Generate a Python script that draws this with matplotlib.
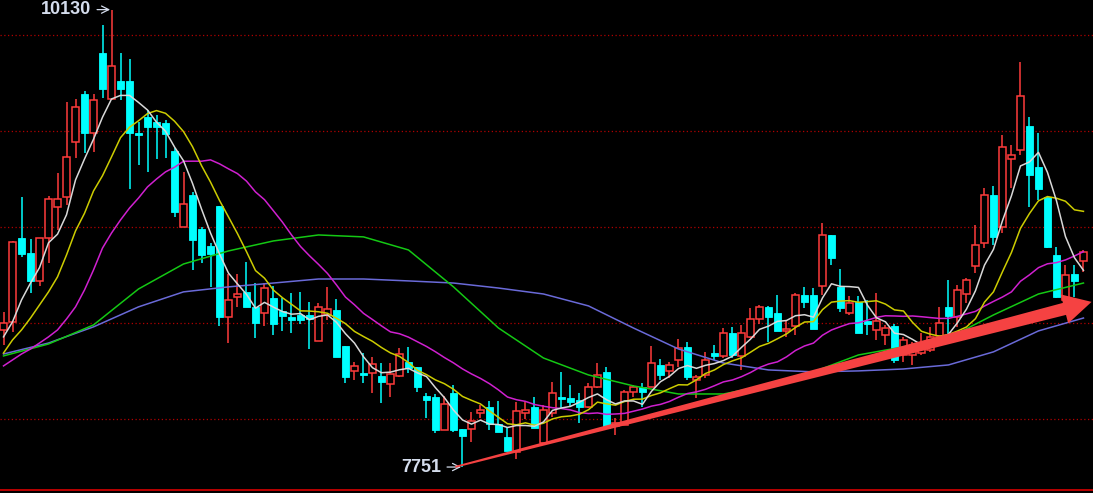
import numpy as np
import pandas as pd
import matplotlib
matplotlib.use('Agg')
import matplotlib.pyplot as plt
from matplotlib.patches import Rectangle, Polygon
from matplotlib.transforms import IdentityTransform

# daily OHLC
opens = [8464, 8506, 8942, 8864, 8719, 8942, 9104, 9156, 9442, 9691,
         9488, 9904, 9665, 9759, 9759, 9488, 9572, 9546, 9540, 9395,
         9000, 9166, 8989, 8901, 9109, 8532, 8636, 8662, 8584, 8552,
         8630, 8563, 8532, 8542, 8542, 8407, 8542, 8568, 8381, 8251,
         8240, 8240, 8225, 8183, 8225, 8298, 8272, 8121, 8116, 7944,
         8136, 7949, 7949, 8032, 8064, 7975, 7908, 7830, 8032, 8064,
         7876, 8032, 8116, 8110, 8100, 8064, 8168, 8246, 7965, 7970,
         8142, 8168, 8168, 8282, 8251, 8308, 8376, 8204, 8230, 8344,
         8329, 8448, 8329, 8428, 8521, 8584, 8552, 8459, 8485, 8646,
         8646, 8693, 8958, 8688, 8552, 8610, 8511, 8464, 8438, 8485,
         8334, 8334, 8344, 8360, 8433, 8584, 8532, 8651, 8797, 8916,
         9166, 9000, 9353, 9400, 9525, 9312, 9156, 8854, 8620, 8755,
         8823]
closes = [8500, 8922, 8859, 8719, 8942, 9145, 9145, 9364, 9624, 9488,
          9660, 9717, 9837, 9717, 9488, 9478, 9520, 9520, 9483, 9078,
          9119, 8932, 8854, 8859, 8532, 8620, 8651, 8584, 8500, 8682,
          8495, 8537, 8516, 8516, 8521, 8584, 8573, 8324, 8220, 8277,
          8230, 8287, 8194, 8235, 8339, 8266, 8168, 8100, 7944, 8079,
          7944, 7913, 7991, 8048, 7975, 7934, 7835, 8043, 8048, 7954,
          8048, 8136, 8105, 8090, 8064, 8168, 8230, 7954, 7980, 8142,
          8168, 8142, 8292, 8230, 8282, 8370, 8220, 8220, 8308, 8329,
          8448, 8334, 8448, 8521, 8584, 8532, 8459, 8469, 8646, 8610,
          8469, 8958, 8838, 8578, 8604, 8448, 8495, 8511, 8474, 8308,
          8412, 8370, 8370, 8428, 8500, 8537, 8672, 8724, 8906, 9166,
          8948, 9416, 9374, 9681, 9270, 9197, 8896, 8636, 8750, 8719,
          8870]
highs = [8558, 8927, 9156, 8937, 8942, 9161, 9280, 9650, 9665, 9707,
         9691, 10050, 10130, 9904, 9873, 9546, 9608, 9582, 9556, 9410,
         9286, 9182, 9000, 8916, 9109, 8755, 8755, 8818, 8708, 8708,
         8693, 8630, 8656, 8662, 8610, 8604, 8688, 8625, 8381, 8298,
         8344, 8324, 8292, 8292, 8370, 8376, 8272, 8136, 8131, 8121,
         8178, 7949, 8038, 8074, 8095, 8095, 7960, 8090, 8090, 8116,
         8074, 8194, 8246, 8178, 8136, 8188, 8292, 8272, 8006, 8152,
         8178, 8188, 8381, 8313, 8298, 8417, 8402, 8230, 8350, 8386,
         8474, 8480, 8490, 8578, 8594, 8589, 8646, 8516, 8656, 8688,
         8682, 9020, 8958, 8781, 8641, 8641, 8620, 8656, 8490, 8495,
         8428, 8402, 8448, 8480, 8584, 8724, 8698, 8734, 9010, 9202,
         9213, 9478, 9426, 9858, 9572, 9488, 9156, 8896, 8802, 8802,
         8880]
lows = [8386, 8454, 8844, 8656, 8693, 8812, 8984, 9114, 9358, 9384,
        9390, 9670, 9660, 9660, 9197, 9322, 9286, 9353, 9358, 9052,
        9000, 8776, 8812, 8688, 8485, 8396, 8584, 8584, 8422, 8485,
        8438, 8459, 8448, 8495, 8365, 8407, 8516, 8324, 8188, 8204,
        8188, 8136, 8084, 8116, 8220, 8240, 8142, 8006, 7928, 7944,
        7934, 7751, 7882, 8006, 7944, 7934, 7835, 7793, 8001, 7954,
        7876, 8012, 8058, 8064, 7980, 8058, 8162, 7954, 7918, 7970,
        8116, 8064, 8168, 8204, 8214, 8272, 8204, 8110, 8214, 8308,
        8318, 8318, 8256, 8422, 8495, 8402, 8459, 8428, 8438, 8578,
        8469, 8646, 8802, 8558, 8542, 8448, 8438, 8412, 8386, 8292,
        8298, 8282, 8334, 8350, 8433, 8438, 8480, 8604, 8760, 8890,
        8906, 8968, 9202, 9374, 9104, 9140, 8890, 8630, 8604, 8636,
        8766]

# moving-average values before a full window is available
ma5_head = [8428, 8506, 8620, 8708]
ma10_head = [8344, 8412, 8464, 8526, 8594, 8662, 8740, 8854, 8979]
ma20_head = [8277, 8308, 8339, 8365, 8396, 8428, 8464, 8521, 8584, 8672,
             8776, 8890, 8968, 9036, 9098, 9150, 9208, 9249, 9286]

# slow averages, read every 5th bar
slow_idx = [0, 5, 10, 15, 20, 25, 30, 35, 40, 45, 50, 55, 60,
            65, 70, 75, 80, 85, 90, 95, 100, 105, 110, 115, 120]
ma_green = [8329, 8391, 8490, 8677, 8807, 8875, 8927, 8958, 8948, 8880,
            8688, 8474, 8318, 8230, 8173, 8131, 8131, 8178, 8246, 8334,
            8376, 8422, 8542, 8651, 8708]
ma_blue = [8339, 8396, 8480, 8584, 8662, 8688, 8708, 8729, 8729, 8719,
           8708, 8682, 8651, 8589, 8474, 8365, 8292, 8256, 8246, 8251,
           8261, 8282, 8350, 8459, 8526]

grid_levels = [10000, 9500, 9000, 8500, 8000]
high_mark = (12, 10130)
low_mark = (51, 7751)
trend_start = (50.2, 7752)
trend_end = (120.9, 8610)

up_col = '#ff3c3c'
down_col = '#00ffff'

fig = plt.figure(figsize=(10.93, 4.93), dpi=100, facecolor='black')
ax = fig.add_axes([0, 0, 1, 1])
ax.set_facecolor('black')
ax.set_axis_off()
ax.set_xlim(-0.39, 121.06)
ax.set_ylim(7616, 10180)

for lv in grid_levels:
    ax.axhline(lv, color='#b00000', lw=0.9, ls=(0, (1, 2)), zorder=1)
ax.axhline(7632, color='#c80000', lw=1.3, zorder=1)

bw = 0.7
for i, (o, h, l, c) in enumerate(zip(opens, highs, lows, closes)):
    top, bot = max(o, c), min(o, c)
    if c >= o:
        ax.vlines(i, top, h, color=up_col, lw=1.1, zorder=2)
        ax.vlines(i, l, bot, color=up_col, lw=1.1, zorder=2)
        ax.add_patch(Rectangle((i - bw / 2, bot), bw, max(top - bot, 3),
                               facecolor='black', edgecolor=up_col, lw=1.1, zorder=3))
    else:
        ax.vlines(i, l, h, color=down_col, lw=1.1, zorder=2)
        ax.add_patch(Rectangle((i - bw / 2, bot), bw, max(top - bot, 3),
                               facecolor=down_col, edgecolor=down_col, lw=0.6, zorder=3))

cl = pd.Series(closes, dtype=float)
ma5 = cl.rolling(5).mean().to_numpy()
ma5[:len(ma5_head)] = ma5_head
ma10 = cl.rolling(10).mean().to_numpy()
ma10[:len(ma10_head)] = ma10_head
ma20 = cl.rolling(20).mean().to_numpy()
ma20[:len(ma20_head)] = ma20_head
idx = np.arange(len(closes))

ax.plot(slow_idx, ma_blue, color='#6a6ad8', lw=1.1, zorder=4)
ax.plot(slow_idx, ma_green, color='#14c814', lw=1.1, zorder=4)
ax.plot(idx, ma20, color='#d020d0', lw=1.1, zorder=4)
ax.plot(idx, ma10, color='#cccc00', lw=1.1, zorder=4)
ax.plot(idx, ma5, color='#d8d8d8', lw=1.1, zorder=4)

# high / low labels
txt_kw = dict(textcoords='offset pixels', ha='right', va='center', color='#d4dcec',
              fontsize=13, fontweight='bold', family='Liberation Sans',
              arrowprops=dict(arrowstyle='->', color='#d4dcec', lw=0.9, shrinkA=2, shrinkB=1),
              zorder=6)
ax.annotate(str(high_mark[1]), xy=high_mark, xytext=(-20, 0), **txt_kw)
ax.annotate(str(low_mark[1]), xy=low_mark, xytext=(-21, 0), **txt_kw)

# hand drawn trend arrow, widening to the right
p0 = ax.transData.transform(trend_start)
p1 = ax.transData.transform(trend_end)
u = (p1 - p0) / np.hypot(*(p1 - p0))
n = np.array([-u[1], u[0]])
head_len, head_w = 28, 15
base = p1 - u * head_len
w0, w1 = 0.9, 6.2
pts = [p0 + n * w0, base + n * w1, base + n * head_w, p1,
       base - n * head_w, base - n * w1, p0 - n * w0]
ax.add_patch(Polygon(pts, closed=True, facecolor='#f54242', edgecolor='none',
                     transform=IdentityTransform(), zorder=7))

plt.savefig('out.png', dpi=100, facecolor='black')
